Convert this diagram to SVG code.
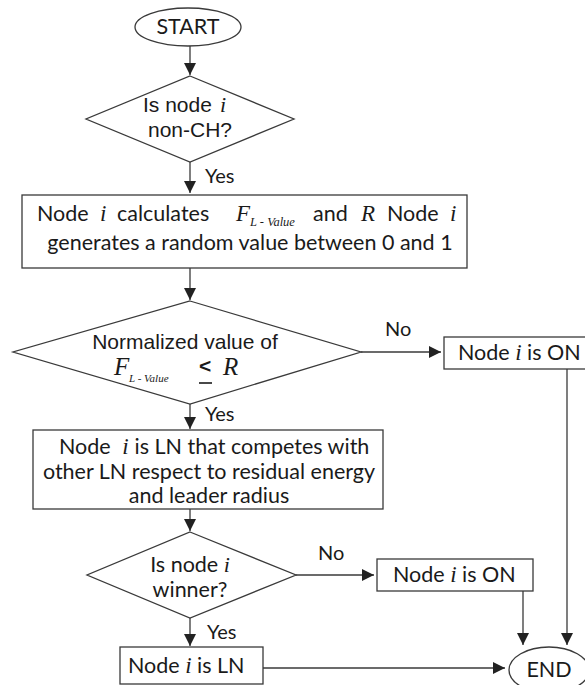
<svg xmlns="http://www.w3.org/2000/svg" width="585" height="685" viewBox="0 0 585 685">
  <style>
    .shape { fill: #ffffff; stroke: #3a3a3a; stroke-width: 1.3; }
    .edge { fill: none; stroke: #3a3a3a; stroke-width: 1.3; }
    .lato { font-family: Lato, "Open Sans", sans-serif; font-size: 21.5px; fill: #1a1a1a; }
    .arial { font-family: "Liberation Sans", Arial, sans-serif; font-size: 21px; fill: #1a1a1a; }
    .math { font-family: "Liberation Serif", "Times New Roman", serif; font-style: italic; fill: #1a1a1a; }
    .lbl { font-family: Lato, "Open Sans", sans-serif; font-size: 20px; fill: #1a1a1a; }
  </style>
  <defs>
    <marker id="arrow" viewBox="0 0 10 10" refX="10" refY="5" markerWidth="12" markerHeight="12" markerUnits="userSpaceOnUse" orient="auto">
      <path d="M0,0 L10,5 L0,10 Z" fill="#222222"/>
    </marker>
  </defs>

  <!-- connectors -->
  <g id="connectors">
    <line class="edge" x1="190" y1="46" x2="190" y2="75" marker-end="url(#arrow)"/>
    <line class="edge" x1="190" y1="162" x2="190" y2="193" marker-end="url(#arrow)"/>
    <line class="edge" x1="190" y1="268" x2="190" y2="300" marker-end="url(#arrow)"/>
    <line class="edge" x1="361" y1="352" x2="441" y2="352" marker-end="url(#arrow)"/>
    <line class="edge" x1="190" y1="404" x2="190" y2="429" marker-end="url(#arrow)"/>
    <line class="edge" x1="190" y1="509" x2="190" y2="531" marker-end="url(#arrow)"/>
    <line class="edge" x1="296" y1="575" x2="374" y2="575" marker-end="url(#arrow)"/>
    <line class="edge" x1="190" y1="618" x2="190" y2="646" marker-end="url(#arrow)"/>
    <line class="edge" x1="263" y1="668" x2="505" y2="668" marker-end="url(#arrow)"/>
    <line class="edge" x1="523" y1="591" x2="523" y2="645" marker-end="url(#arrow)"/>
    <line class="edge" x1="567" y1="369" x2="567" y2="645" marker-end="url(#arrow)"/>
    <text class="lbl" x="205" y="183">Yes</text>
    <text class="lbl" x="385" y="336">No</text>
    <text class="lbl" x="205" y="421">Yes</text>
    <text class="lbl" x="318" y="560">No</text>
    <text class="lbl" x="207" y="639">Yes</text>
  </g>

  <!-- start terminal -->
  <g id="start">
    <ellipse class="shape" cx="188" cy="27" rx="53" ry="19"/>
    <text class="lato" x="188" y="34" text-anchor="middle" font-size="17">START</text>
  </g>

  <!-- decision: non-CH -->
  <g id="is-non-ch">
    <polygon class="shape" points="190,76 294,119 190,162 86,119"/>
    <text class="arial" x="143" y="112">Is node</text>
    <text class="math" x="220" y="112" font-size="22">i</text>
    <text class="arial" x="190" y="137" text-anchor="middle">non-CH?</text>
  </g>

  <!-- process: compute F and R -->
  <g id="calculate">
    <rect class="shape" x="22" y="195" width="445" height="73"/>
    <text class="lato" x="37" y="221">Node</text>
    <text class="math" x="100" y="221" font-size="23">i</text>
    <text class="lato" x="117" y="221">calculates</text>
    <text class="math" x="236" y="221" font-size="23">F</text>
    <text class="math" x="250" y="226" font-size="12.5">L - Value</text>
    <text class="lato" x="313" y="221">and</text>
    <text class="math" x="361" y="221" font-size="23">R</text>
    <text class="lato" x="387" y="221">Node</text>
    <text class="math" x="450" y="221" font-size="23">i</text>
    <text class="lato" x="250" y="250" text-anchor="middle">generates a random value between 0 and 1</text>
  </g>

  <!-- decision: normalized F vs R -->
  <g id="compare">
    <polygon class="shape" points="190,301 361,352 190,404 13,352"/>
    <text class="arial" x="185" y="349" text-anchor="middle" font-size="22.5">Normalized value of</text>
    <text class="math" x="114" y="375" font-size="25">F</text>
    <text class="math" x="129" y="382" font-size="11">L - Value</text>
    <text class="arial" x="199" y="373" font-size="20" font-weight="bold">&lt;</text>
    <line x1="199" y1="383" x2="212" y2="383" stroke="#1a1a1a" stroke-width="1.6"/>
    <text class="math" x="223" y="375" font-size="25">R</text>
  </g>

  <!-- result: ON (first) -->
  <g id="on-first">
    <rect class="shape" x="444" y="337" width="150" height="32"/>
    <text class="lato" x="458" y="360">Node <tspan class="math" font-size="23">i</tspan> is ON</text>
  </g>

  <!-- process: LN competition -->
  <g id="compete">
    <rect class="shape" x="33" y="430" width="350" height="79"/>
    <text class="lato" x="59" y="454">Node <tspan class="math" font-size="23" dx="6">i</tspan><tspan dx="6">is LN that competes with</tspan></text>
    <text class="lato" x="209" y="479" text-anchor="middle">other LN respect to residual energy</text>
    <text class="lato" x="209" y="503" text-anchor="middle">and leader radius</text>
  </g>

  <!-- decision: winner -->
  <g id="winner">
    <polygon class="shape" points="190,532 296,575 190,618 87,575"/>
    <text class="lato" x="190" y="572" text-anchor="middle" font-size="20.5">Is node <tspan class="math" font-size="22">i</tspan></text>
    <text class="lato" x="190" y="597" text-anchor="middle" font-size="20.5">winner?</text>
  </g>

  <!-- result: ON (second) -->
  <g id="on-second">
    <rect class="shape" x="377" y="559" width="156" height="32"/>
    <text class="lato" x="393" y="582">Node <tspan class="math" font-size="23">i</tspan> is ON</text>
  </g>

  <!-- result: LN -->
  <g id="is-ln">
    <rect class="shape" x="120" y="647" width="143" height="37"/>
    <text class="lato" x="128" y="673">Node <tspan class="math" font-size="23">i</tspan> is LN</text>
  </g>

  <!-- end terminal -->
  <g id="end">
    <ellipse class="shape" cx="549" cy="670" rx="40" ry="23"/>
    <text class="lato" x="549" y="677" text-anchor="middle" font-size="18">END</text>
  </g>
</svg>
